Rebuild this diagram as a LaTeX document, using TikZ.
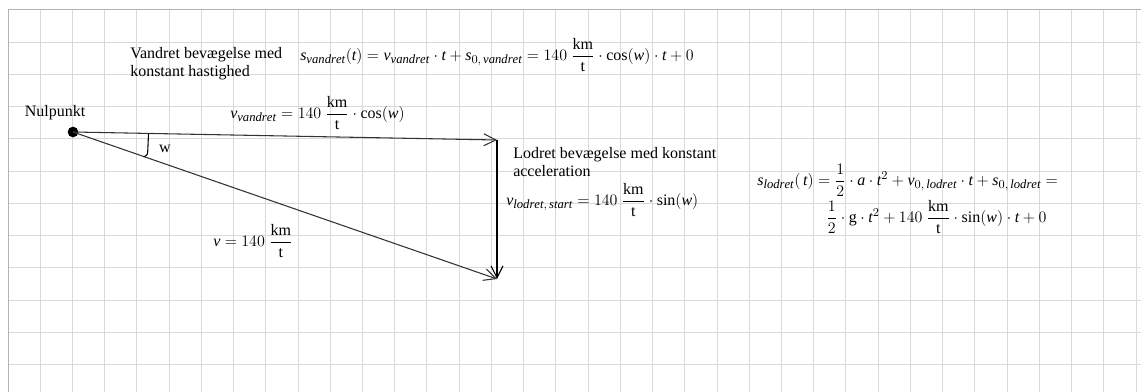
\documentclass[tikz,border=0pt]{standalone}
\usepackage{amsmath}
\usepackage{fontspec}
\setmainfont{Liberation Serif}
\usetikzlibrary{arrows.meta}
\DeclareMathSizes{12}{12}{9.5}{8}
\newcommand{\iv}[1]{\mathit{#1}}
\newcommand{\kmt}{\dfrac{\mathrm{km}}{\mathrm{t}}}

\begin{document}
\begin{tikzpicture}[x=0.75pt, y=-0.75pt, font=\fontsize{12}{13.5}\selectfont,
  gridline/.style={gray!30, line width=0.75pt},
  gridedge/.style={gray!60, line width=0.75pt},
  vec/.style={black!80, line width=0.8pt, -{Straight Barb[length=9pt,width=9pt]}},
  txt/.style={anchor=west, inner sep=0pt, align=left},
  dot/.style={circle, fill=black, inner sep=0pt, minimum size=8pt}]
  \useasboundingbox (0,0) rectangle (1141,392);
  % squared paper
  \foreach \k in {1,...,35} \draw[gridline] ({8+32.23*\k},10) -- ({8+32.23*\k},392);
  \foreach \k in {1,...,11} \draw[gridline] (8,{10+32.23*\k}) -- (1141,{10+32.23*\k});
  \draw[gridedge] (8,392) -- (8,10) -- (1141,10);

  % velocity triangle
  \node[dot] (O) at (73,132) {};
  \node[inner sep=0pt] (nul) at (55,113) {Nulpunkt};
  \coordinate (A) at (497,140);
  \coordinate (B) at (497,279);
  \draw[vec] (O.center) -- (A);
  \draw[vec, black] (A) -- (B);
  \draw[vec] (O.center) -- (B);

  % angle w
  \draw[black, line width=0.8pt] (148.5,134) -- (147.8,150) .. controls (147.5,155) .. (143.5,157);
  \node[inner sep=0pt] (w) at (165,149) {w};

  % texts
  \node[txt] (vandret) at (130,64) {Vandret bevægelse med\\konstant hastighed};
  \node[txt] (svand) at (300,55) {$\iv{s}_{\iv{vandret}}(\iv{t}) = \iv{v}_{\iv{vandret}}\cdot\iv{t} + \iv{s}_{0,\,\iv{vandret}} = 140\ \kmt\cdot\cos(\iv{w})\cdot\iv{t} + 0$};
  \node[txt] (vvand) at (230,113) {$\iv{v}_{\iv{vandret}} = 140\ \kmt\cdot\cos(\iv{w})$};
  \node[txt] (lodret) at (513,162.5) {Lodret bevægelse med konstant\\acceleration};
  \node[txt] (vlod) at (506,200) {$\iv{v}_{\iv{lodret},\,\iv{start}} = 140\ \kmt\cdot\sin(\iv{w})$};
  \node[txt] (v) at (213,241) {$\iv{v} = 140\ \kmt$};
  \node[txt] (slod1) at (757,180) {$\iv{s}_{\iv{lodret}}(\,\iv{t}) = \dfrac{1}{2}\cdot\iv{a}\cdot\iv{t}^2 + \iv{v}_{0,\,\iv{lodret}}\cdot\iv{t} + \iv{s}_{0,\,\iv{lodret}} =$};
  \node[txt] (slod2) at (826,217) {$\dfrac{1}{2}\cdot\mathrm{g}\cdot\iv{t}^2 + 140\ \kmt\cdot\sin(\iv{w})\cdot\iv{t} + 0$};
\end{tikzpicture}
\end{document}
